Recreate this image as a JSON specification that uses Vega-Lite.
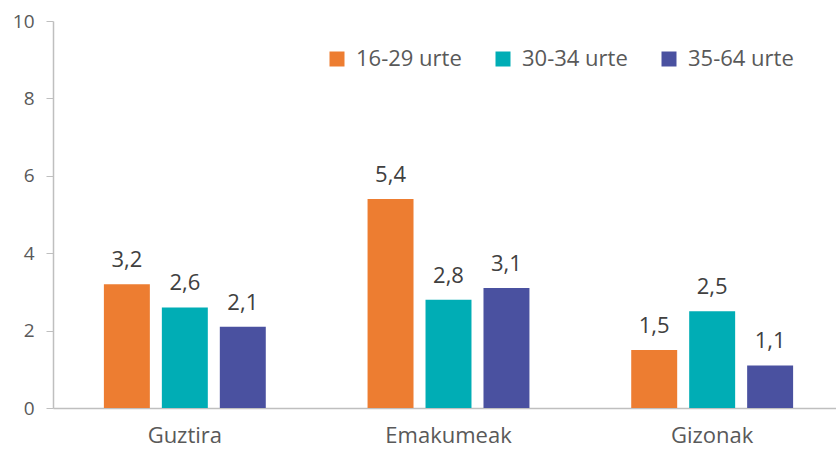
{
  "$schema": "https://vega.github.io/schema/vega-lite/v6.json",
  "width": 783,
  "height": 387,
  "autosize": "none",
  "padding": {"left": 53, "top": 21, "right": 0, "bottom": 45},
  "background": "white",
  "config": {"font": "Open Sans", "view": {"stroke": null}},
  "data": {
    "values": [
      {"cat": "Guztira", "age": "16-29 urte", "v": 3.2, "lbl": "3,2"},
      {"cat": "Guztira", "age": "30-34 urte", "v": 2.6, "lbl": "2,6"},
      {"cat": "Guztira", "age": "35-64 urte", "v": 2.1, "lbl": "2,1"},
      {"cat": "Emakumeak", "age": "16-29 urte", "v": 5.4, "lbl": "5,4"},
      {"cat": "Emakumeak", "age": "30-34 urte", "v": 2.8, "lbl": "2,8"},
      {"cat": "Emakumeak", "age": "35-64 urte", "v": 3.1, "lbl": "3,1"},
      {"cat": "Gizonak", "age": "16-29 urte", "v": 1.5, "lbl": "1,5"},
      {"cat": "Gizonak", "age": "30-34 urte", "v": 2.5, "lbl": "2,5"},
      {"cat": "Gizonak", "age": "35-64 urte", "v": 1.1, "lbl": "1,1"}
    ]
  },
  "encoding": {
    "x": {
      "field": "cat", "type": "nominal", "sort": null,
      "scale": {"range": [0, 791], "paddingInner": 0.386, "paddingOuter": 0.193},
      "axis": {"title": null, "labelAngle": 0, "ticks": false, "domainColor": "#BFBFBF", "domainWidth": 1.5, "labelFontSize": 22, "labelColor": "#595959", "labelPadding": 17}
    },
    "xOffset": {"field": "age", "type": "nominal", "scale": {"paddingInner": 0.207, "paddingOuter": 0}},
    "y": {
      "field": "v", "type": "quantitative",
      "scale": {"domain": [0, 10]},
      "axis": {"title": null, "values": [0, 2, 4, 6, 8, 10], "grid": false, "domainColor": "#BFBFBF", "domainWidth": 1.5, "tickColor": "#BFBFBF", "tickSize": 7, "labelFontSize": 19, "labelColor": "#595959", "labelPadding": 12}
    }
  },
  "layer": [
    {
      "mark": {"type": "bar"},
      "encoding": {
        "color": {
          "field": "age", "type": "nominal",
          "scale": {"domain": ["16-29 urte", "30-34 urte", "35-64 urte"], "range": ["#ED7D31", "#00ADB5", "#4A51A0"]},
          "legend": {"title": null, "orient": "none", "legendX": 273, "legendY": 27, "direction": "horizontal", "symbolType": "square", "symbolSize": 225, "symbolStrokeWidth": 0, "symbolOpacity": 1, "labelFontSize": 22, "labelColor": "#595959", "columnPadding": 30, "labelOffset": 8}
        }
      }
    },
    {
      "mark": {"type": "text", "baseline": "bottom", "dy": -12, "fontSize": 22, "color": "#404040"},
      "encoding": {"text": {"field": "lbl"}}
    }
  ]
}
